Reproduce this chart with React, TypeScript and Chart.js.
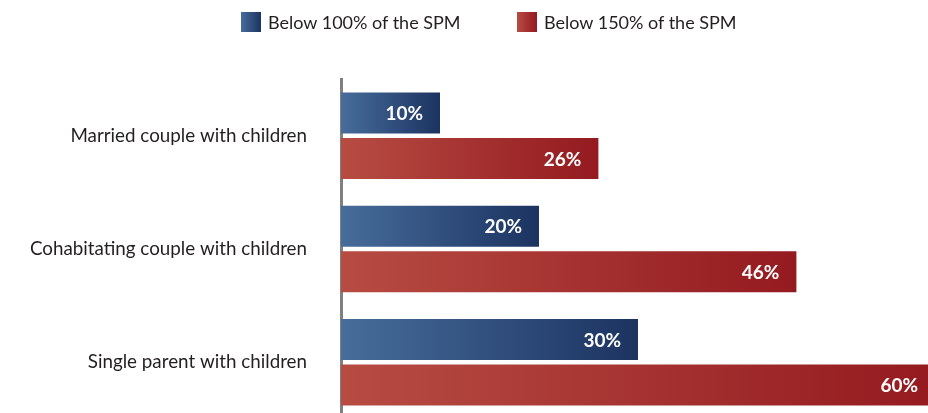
import React, { useEffect, useRef } from "react";
import { Chart, registerables } from "chart.js";

Chart.register(...registerables);

const categories = [
  "Married couple with children",
  "Cohabitating couple with children",
  "Single parent with children",
];
const seriesLabels = ["Below 100% of the SPM", "Below 150% of the SPM"];
const below100 = [10, 20, 30];
const below150 = [26, 46, 60];
const blueStops = ["#476d9b", "#1c3361"];
const redStops = ["#b74c43", "#941a1f"];

const FONT = "Lato";

function makeGradient(stops: string[]) {
  return (c: any) => {
    const chart = c.chart;
    const area = chart.chartArea;
    if (!area || c.type !== "data") return stops[1];
    const xs = chart.scales.x;
    const x0 = xs.getPixelForValue(0);
    const x1 = xs.getPixelForValue(c.raw);
    if (!isFinite(x0) || !isFinite(x1) || x1 <= x0) return stops[1];
    const g = chart.ctx.createLinearGradient(x0, 0, x1, 0);
    g.addColorStop(0, stops[0]);
    g.addColorStop(1, stops[1]);
    return g;
  };
}

const valueLabels = {
  id: "valueLabels",
  afterDatasetsDraw(chart: any) {
    const ctx = chart.ctx;
    ctx.save();
    ctx.font = `bold 19px ${FONT}`;
    ctx.fillStyle = "#ffffff";
    ctx.textAlign = "right";
    ctx.textBaseline = "middle";
    chart.data.datasets.forEach((ds: any, di: number) => {
      const meta = chart.getDatasetMeta(di);
      meta.data.forEach((el: any, i: number) => {
        ctx.fillText(`${ds.data[i]}%`, el.x - 17, el.y + 1);
      });
    });
    ctx.restore();
  },
};

export default function App() {
  const ref = useRef<HTMLCanvasElement | null>(null);

  useEffect(() => {
    if (!ref.current) return;
    const chart = new Chart(ref.current, {
      type: "bar",
      data: {
        labels: categories,
        datasets: [
          {
            label: seriesLabels[0],
            data: below100,
            backgroundColor: makeGradient(blueStops),
            borderWidth: 0,
            categoryPercentage: 0.803,
            barPercentage: 0.9,
          },
          {
            label: seriesLabels[1],
            data: below150,
            backgroundColor: makeGradient(redStops),
            borderWidth: 0,
            categoryPercentage: 0.803,
            barPercentage: 0.9,
          },
        ],
      },
      options: {
        indexAxis: "y",
        animation: false,
        responsive: false,
        devicePixelRatio: 1,
        layout: { padding: { left: 0, right: 5, top: 79, bottom: 6 } },
        plugins: {
          legend: { display: false },
          tooltip: { enabled: false },
        },
        scales: {
          x: {
            display: false,
            min: 0,
            max: 60,
          },
          y: {
            grid: { display: false, drawTicks: false },
            border: { display: true, color: "#808080", width: 3 },
            ticks: {
              font: { family: FONT, size: 18.8 },
              color: "#231f20",
              padding: 34,
            },
            afterFit: (s: any) => {
              s.width = 341;
              s.paddingTop = 0;
              s.paddingBottom = 0;
            },
          },
        },
      },
      plugins: [valueLabels],
    });
    return () => chart.destroy();
  }, []);

  const legendItem = (left: number, label: string, stops: string[]) => (
    <div
      style={{
        position: "absolute",
        left,
        top: 12,
        height: 20,
        display: "flex",
        alignItems: "center",
        whiteSpace: "nowrap",
      }}
    >
      <div
        style={{
          width: 20,
          height: 20,
          background: `linear-gradient(to right, ${stops[0]}, ${stops[1]})`,
          marginRight: 7,
        }}
      />
      <span style={{ fontFamily: FONT, fontSize: 18, color: "#231f20", lineHeight: "20px" }}>{label}</span>
    </div>
  );

  return (
    <div
      style={{
        position: "fixed",
        left: 0,
        top: 0,
        width: 928,
        height: 413,
        overflow: "hidden",
        background: "#ffffff",
      }}
    >
      <canvas
        ref={ref}
        width={940}
        height={425}
        style={{ position: "absolute", left: 0, top: 0, width: 940, height: 425, display: "block" }}
      />
      {legendItem(241, seriesLabels[0], blueStops)}
      {legendItem(517, seriesLabels[1], redStops)}
    </div>
  );
}
